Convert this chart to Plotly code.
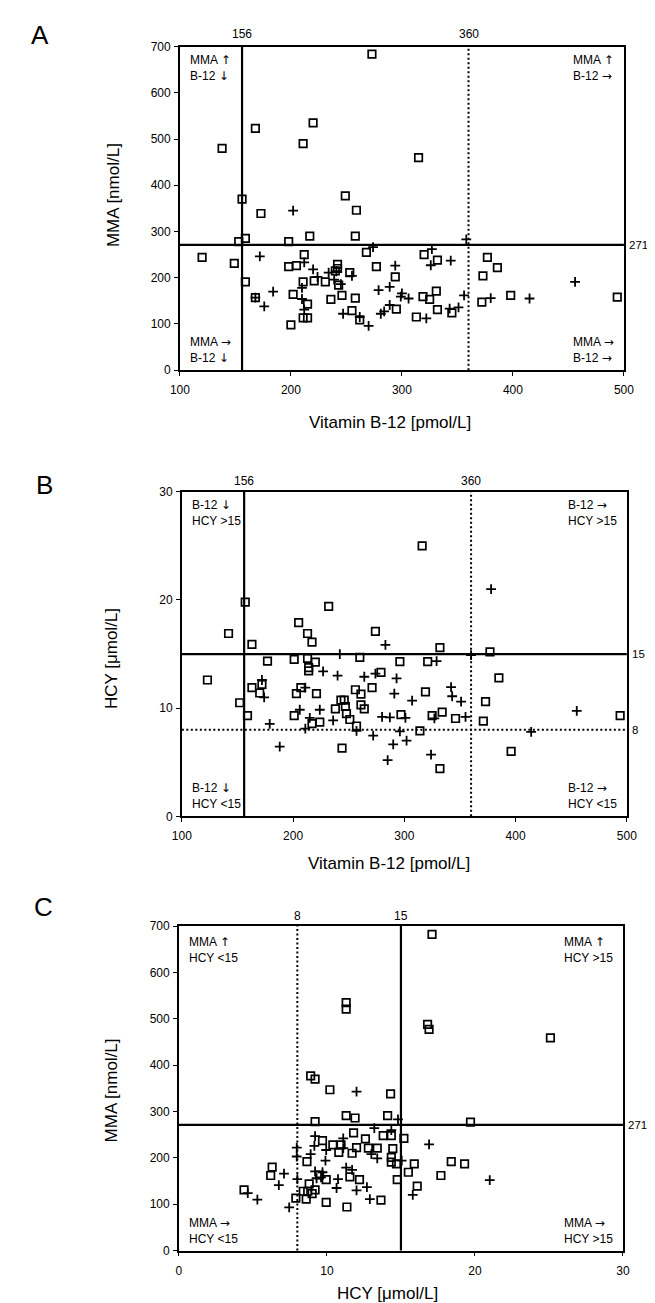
import plotly.graph_objects as go

W, H = 655, 1303
FONT = "Liberation Sans, Arial, Helvetica, sans-serif"

# ---------------- Panel A: Vitamin B-12 vs MMA ----------------
a_sq_b12 = [273, 168, 220, 211, 138, 315, 249, 259, 156, 173, 159, 153, 217, 258, 198,
            120, 149, 212, 268, 320, 332, 377, 386, 373,
            198, 205, 242, 242, 240, 277, 253, 294,
            159, 211, 221, 231, 243,
            202, 168, 246, 215, 236, 258, 319, 325, 331,
            332, 295, 255, 313, 345, 211, 215, 262, 200,
            372, 398, 494]
a_sq_mma = [684, 523, 535, 490, 480, 460, 377, 346, 370, 339, 285, 278, 290, 290, 278,
            244, 231, 250, 255, 250, 238, 244, 222, 204,
            224, 226, 229, 220, 215, 224, 211, 202,
            191, 191, 193, 191, 184,
            164, 157, 162, 143, 153, 156, 159, 153, 171,
            131, 132, 129, 115, 124, 113, 113, 109, 98,
            147, 162, 158]
a_pl_b12 = [202, 358, 172, 274, 327, 344, 326, 294, 212, 220, 224, 234, 241, 255, 239, 245,
            210, 184, 279, 289, 300, 306, 299, 356, 380, 415, 456, 210, 176, 212, 247, 281,
            284, 289, 322, 351, 343, 262, 270, 168]
a_pl_mma = [345, 283, 246, 266, 262, 237, 227, 226, 233, 218, 202, 211, 214, 204, 196, 186,
            178, 170, 173, 180, 166, 155, 159, 162, 156, 155, 191, 154, 138, 131, 122, 122,
            127, 141, 112, 136, 133, 115, 96, 157]

# ---------------- Panel B: Vitamin B-12 vs HCY ----------------
b_sq_b12 = [316, 157, 232, 205, 213, 217, 274, 142, 163, 332, 377,
            177, 201, 213, 220, 214, 214, 260, 296, 321,
            123, 385, 279, 163, 172, 170, 207, 203, 221, 256, 261, 271, 319,
            243, 246, 238, 247, 261, 264, 248, 251, 257,
            152, 159, 201, 217, 224, 297, 325, 334, 346, 373, 371, 314,
            244, 332, 396, 494]
b_sq_hcy = [25.0, 19.8, 19.4, 17.9, 16.9, 16.1, 17.1, 16.9, 15.9, 15.6, 15.2,
            14.35, 14.5, 14.6, 14.26, 13.75, 13.45, 14.7, 14.3, 14.3,
            12.6, 12.8, 13.3, 11.9, 12.2, 11.4, 11.9, 11.35, 11.35, 11.7, 11.3, 11.9, 11.5,
            10.75, 10.75, 9.94, 10.15, 10.3, 9.94, 9.5, 8.95, 8.35,
            10.5, 9.3, 9.3, 8.56, 8.7, 9.4, 9.3, 9.64, 9.04, 10.6, 8.8, 7.9,
            6.3, 4.4, 6.0, 9.3]
b_pl_b12 = [378, 283, 242, 329, 227, 240, 264, 274, 293, 174, 172, 211, 291, 307, 342, 343,
            351, 206, 224, 236, 215, 280, 287, 301, 327, 355, 179, 211, 257, 296, 188, 272,
            290, 302, 285, 324, 360, 414, 455]
b_pl_hcy = [21.0, 15.85, 15.0, 14.35, 13.4, 13.0, 12.9, 13.2, 12.75, 11.0, 12.6, 11.9, 11.35,
            10.7, 11.95, 11.1, 10.6, 9.85, 9.85, 8.86, 9.1, 9.2, 9.15, 9.1, 9.05, 9.2, 8.55,
            8.1, 7.9, 7.85, 6.45, 7.45, 6.65, 7.0, 5.2, 5.7, 14.9, 7.8, 9.75]

# ---------------- Panel C: HCY vs MMA ----------------
c_sq_hcy = [17.1, 11.3, 11.3, 16.8, 16.9, 25.1, 8.9, 9.2, 10.2, 14.3, 11.3, 11.9, 14.1, 9.2, 19.7,
            11.8, 12.6, 13.8, 14.35, 15.2, 9.7, 10.4, 10.95, 10.8, 11.7, 12.0, 12.8, 13.4, 14.45,
            14.35, 14.35, 14.7, 15.9, 15.5, 16.1, 14.75,
            8.65, 6.3, 6.2, 4.4, 8.8, 8.4, 8.7, 9.0, 9.2, 7.9, 8.6, 9.95, 9.5, 9.95, 11.35, 11.55,
            12.2, 13.65,
            18.4, 19.3, 17.7]
c_sq_mma = [682, 535, 521, 488, 477, 459, 377, 370, 347, 338, 291, 286, 291, 278, 277,
            254, 241, 248, 248, 242, 237, 228, 228, 212, 210, 222, 221, 221, 220,
            201, 191, 187, 187, 169, 139, 153,
            192, 180, 162, 131, 144, 128, 128, 123, 131, 113, 111, 153, 163, 104, 94, 159,
            153, 109,
            192, 187, 162]
c_pl_hcy = [12.0, 14.8, 16.9, 21.0, 15.8, 13.2, 14.35, 9.2, 9.15, 7.96, 7.96, 11.1, 11.1, 9.9,
            8.9, 9.95, 13.0, 13.4, 7.1, 6.75, 4.65, 5.3, 7.45, 8.0, 9.2, 9.7, 9.3, 9.6, 10.75,
            10.65, 11.3, 11.7, 12.0, 12.7, 12.9, 15.05]
c_pl_mma = [343, 283, 229, 152, 120, 264, 260, 247, 226, 222, 203, 242, 221, 194, 208, 217,
            208, 199, 166, 141, 124, 110, 93, 154, 171, 169, 156, 158, 154, 135, 179, 174,
            130, 137, 111, 194]

# axis ranges / ticks
b12_range, b12_ticks = [100, 500], [100, 200, 300, 400, 500]
mma_range, mma_ticks = [0, 700], [0, 100, 200, 300, 400, 500, 600, 700]
hcy_range, hcy_ticks = [0, 30], [0, 10, 20, 30]

# panel pixel boxes: (left, right, top, bottom)
boxes = {
    "A": (167, 625, 32, 359),
    "B": (169, 628, 482, 810),
    "C": (166, 624, 921, 1249),
}


def xdom(b):
    return [b[0] / W, b[1] / W]


def ydom(b):
    return [1 - b[3] / H, 1 - b[2] / H]


fig = go.Figure()

sq_marker = dict(symbol="square-open", size=7.5, color="black", line=dict(width=1.7, color="black"))
pl_marker = dict(symbol="cross-thin-open", size=7, color="black", line=dict(width=1.8, color="black"))

panels = [
    ("x", "y", a_sq_b12, a_sq_mma, a_pl_b12, a_pl_mma),
    ("x2", "y2", b_sq_b12, b_sq_hcy, b_pl_b12, b_pl_hcy),
    ("x3", "y3", c_sq_hcy, c_sq_mma, c_pl_hcy, c_pl_mma),
]
for xa, ya, sx, sy, px, py in panels:
    fig.add_trace(go.Scatter(x=sx, y=sy, mode="markers", marker=sq_marker, xaxis=xa, yaxis=ya,
                             showlegend=False, cliponaxis=False))
    fig.add_trace(go.Scatter(x=px, y=py, mode="markers", marker=pl_marker, xaxis=xa, yaxis=ya,
                             showlegend=False, cliponaxis=False))


def axis(rng, ticks, dom, anchor, standoff):
    return dict(range=rng, tickvals=ticks, domain=dom, anchor=anchor,
                showline=True, mirror=True, linecolor="black", linewidth=1.6,
                ticks="outside", ticklen=4, tickwidth=1.3, tickcolor="black",
                ticklabelstandoff=standoff,
                showgrid=False, zeroline=False,
                tickfont=dict(family=FONT, size=12, color="black"))


fig.update_layout(
    width=W, height=H, margin=dict(l=0, r=0, t=0, b=0),
    paper_bgcolor="white", plot_bgcolor="white",
    font=dict(family=FONT, color="black"),
    xaxis=axis(b12_range, b12_ticks, xdom(boxes["A"]), "y", 4),
    yaxis=axis(mma_range, mma_ticks, ydom(boxes["A"]), "x", 1),
    xaxis2=axis(b12_range, b12_ticks, xdom(boxes["B"]), "y2", 4),
    yaxis2=axis(hcy_range, hcy_ticks, ydom(boxes["B"]), "x2", 1),
    xaxis3=axis(hcy_range, hcy_ticks, xdom(boxes["C"]), "y3", 4),
    yaxis3=axis(mma_range, mma_ticks, ydom(boxes["C"]), "x3", 1),
)

shapes = []
DOT = "2px,2.5px"


def vline(xa, ya, x, dash):
    shapes.append(dict(type="line", xref=xa, yref=ya + " domain", x0=x, x1=x, y0=0, y1=1,
                       line=dict(color="black", width=2.2 if dash == "solid" else 2, dash=dash)))


def hline(xa, ya, y, dash):
    shapes.append(dict(type="line", xref=xa + " domain", yref=ya, x0=0, x1=1, y0=y, y1=y,
                       line=dict(color="black", width=2.2 if dash == "solid" else 2, dash=dash)))


# thresholds
vline("x", "y", 156, "solid"); vline("x", "y", 360, DOT); hline("x", "y", 271, "solid")
vline("x2", "y2", 156, "solid"); vline("x2", "y2", 360, DOT)
hline("x2", "y2", 15, "solid"); hline("x2", "y2", 8, DOT)
vline("x3", "y3", 8, DOT); vline("x3", "y3", 15, "solid"); hline("x3", "y3", 271, "solid")
fig.update_layout(shapes=shapes)

ann = []


def txt(text, x, y, xref="paper", yref="paper", xanchor="center", yanchor="middle", size=12,
        align="left", textangle=0, xshift=0, yshift=0):
    ann.append(dict(text=text, x=x, y=y, xref=xref, yref=yref, xanchor=xanchor, yanchor=yanchor,
                    showarrow=False, align=align, textangle=textangle, xshift=xshift, yshift=yshift,
                    font=dict(family=FONT, size=size, color="black")))


def px_x(p):
    return p / W


def px_y(p):
    return 1 - p / H


# panel letters
txt("A", px_x(23), px_y(20), size=26)
txt("B", px_x(27), px_y(475), size=26)
txt("C", px_x(26), px_y(902), size=26)

# threshold labels on top
for xa, ya, vals, ys in [("x", "y", [156, 360], 4), ("x2", "y2", [156, 360], 2),
                         ("x3", "y3", [8, 15], 1)]:
    for v in vals:
        txt(str(v), v, 1, xref=xa, yref=ya + " domain", yanchor="bottom", yshift=ys)

# threshold labels on right
for xa, ya, vals in [("x", "y", [271]), ("x2", "y2", [15, 8]), ("x3", "y3", [271])]:
    for v in vals:
        txt(str(v), 1, v, xref=xa + " domain", yref=ya, xanchor="left", xshift=3, size=11.5)

# quadrant labels (arrows in a font with full-size arrow glyphs)
def ar(c):
    return '<span style="font-family:DejaVu Sans">' + c + "</span>"


UP, DN, RT = ar("↑"), ar("↓"), ar("→")
quad = {
    ("x", "y"): ["MMA " + UP + "<br>B-12 " + DN, "MMA " + UP + "<br>B-12 " + RT,
                 "MMA " + RT + "<br>B-12 " + DN, "MMA " + RT + "<br>B-12 " + RT],
    ("x2", "y2"): ["B-12 " + DN + "<br>HCY >15", "B-12 " + RT + "<br>HCY >15",
                   "B-12 " + DN + "<br>HCY <15", "B-12 " + RT + "<br>HCY <15"],
    ("x3", "y3"): ["MMA " + UP + "<br>HCY <15", "MMA " + UP + "<br>HCY >15",
                   "MMA " + RT + "<br>HCY <15", "MMA " + RT + "<br>HCY >15"],
}
for (xa, ya), labs in quad.items():
    xr, yr = xa + " domain", ya + " domain"
    ytop = -7 if xa == "x3" else -4
    txt(labs[0], 0, 1, xr, yr, xanchor="left", yanchor="top", xshift=8, yshift=ytop)
    txt(labs[1], 1, 1, xr, yr, xanchor="right", yanchor="top", xshift=-8, yshift=ytop)
    txt(labs[2], 0, 0, xr, yr, xanchor="left", yanchor="bottom", xshift=8, yshift=3)
    txt(labs[3], 1, 0, xr, yr, xanchor="right", yanchor="bottom", xshift=-8, yshift=3)

# axis titles
txt("Vitamin B-12 [pmol/L]", px_x(384), px_y(412), size=17)
txt("Vitamin B-12 [pmol/L]", px_x(383), px_y(858), size=17)
txt("HCY [μmol/L]", px_x(381), px_y(1292), size=17)
txt("MMA [nmol/L]", px_x(98), px_y(182), size=17, textangle=-90)
txt("HCY [μmol/L]", px_x(96), px_y(651), size=17, textangle=-90)
txt("MMA [nmol/L]", px_x(96), px_y(1087), size=17, textangle=-90)

fig.update_layout(annotations=ann)

fig.write_html("out.html")
